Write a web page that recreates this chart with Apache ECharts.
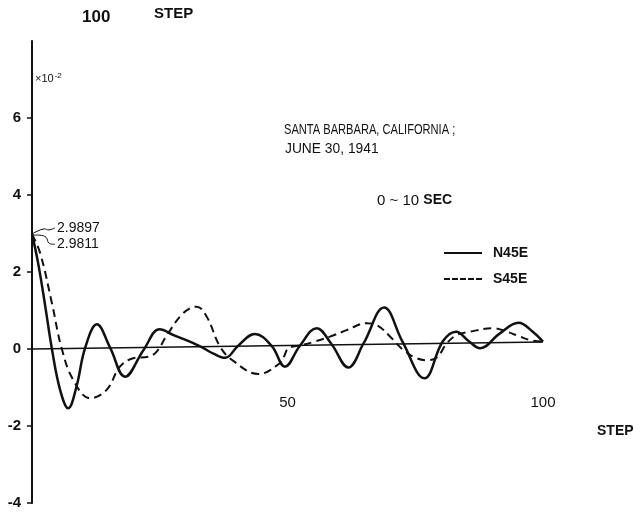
<!DOCTYPE html>
<html><head><meta charset="utf-8">
<script src="https://cdn.jsdelivr.net/npm/echarts@6/dist/echarts.min.js"></script>
<style>html,body{margin:0;padding:0;background:#fff}#c{width:641px;height:516px}</style>
</head><body><div id="c"></div>
<script>
// ---- data ----
const yTicks = [-4, -2, 0, 2, 4, 6];
const xTicks = [50, 100];
const seriesNames = ['N45E', 'S45E'];
const peakLabels = ['2.9897', '2.9811'];

const n45eSteps = [0, 1.2, 2.5, 3.9, 5.5, 7.1, 8.7, 10.4, 12.7, 15.3, 18.2, 21.8, 25.0, 27.7, 30.9, 33.3, 35.5, 37.8, 40.3, 43.6, 46.9, 49.5, 52.4, 55.7, 58.6, 61.9, 64.9, 68.9, 72.5, 76.8, 80.4, 83.0, 85.5, 87.7, 91.5, 95.2, 98.0, 100];
const n45eValues = [2.9897, 2.23, 1.19, 0.0, -1.06, -1.54, -0.98, 0.03, 0.64, 0.03, -0.72, -0.03, 0.51, 0.36, 0.19, 0.04, -0.12, -0.23, 0.08, 0.39, 0.08, -0.46, 0.08, 0.54, 0.13, -0.48, 0.15, 1.08, 0.19, -0.76, 0.2, 0.45, 0.2, 0.02, 0.4, 0.68, 0.45, 0.19];

const s45eSteps = [0, 1.6, 3.9, 5.8, 8.1, 11.4, 14.6, 17.2, 19.8, 22.8, 24.4, 26.4, 29.6, 32.2, 34.2, 36.8, 39.4, 44.3, 48.5, 49.3, 50.2, 52.8, 55.5, 58.3, 61.6, 65.5, 67.5, 70.1, 72.7, 75.3, 77.2, 79.2, 81.2, 83.1, 85.7, 90.3, 92.9, 95.5, 97.5, 100];
const s45eValues = [2.9811, 2.49, 1.19, 0.02, -0.81, -1.28, -1.06, -0.46, -0.24, -0.2, -0.07, 0.36, 0.93, 1.1, 0.84, 0.06, -0.31, -0.65, -0.37, -0.2, 0.02, 0.1, 0.2, 0.32, 0.49, 0.67, 0.62, 0.32, -0.03, -0.24, -0.29, -0.22, 0.15, 0.36, 0.45, 0.54, 0.45, 0.32, 0.23, 0.19];

// drawn zero reference line (slightly tilted in the scan)
const zeroLineSteps = [0, 100];
const zeroLineValues = [0, 0.18];

const FONT = '"Liberation Sans", Arial, sans-serif';
const INK = '#111';

const pairs = (xs, ys) => xs.map((x, i) => [x, ys[i]]);

const chart = echarts.init(document.getElementById('c'), null, {renderer: 'canvas'});

const option = {
  backgroundColor: '#fff',
  animation: false,
  grid: {left: 32, right: 98, top: 41, bottom: 13, containLabel: false, outerBoundsMode: 'none'},
  legend: {
    left: 439, top: 241, orient: 'vertical',
    itemWidth: 38, itemHeight: 2.5, itemGap: 12,
    data: [
      {name: seriesNames[0], icon: 'path://M0,0H38V2H0Z'},
      {name: seriesNames[1], icon: 'path://M0,0h6v2h-6zM8,0h6v2h-6zM16,0h6v2h-6zM24,0h6v2h-6zM32,0h6v2h-6z'}
    ],
    textStyle: {fontFamily: FONT, fontWeight: 'bold', fontSize: 14, color: INK, padding: [0, 0, 0, 6]}
  },
  xAxis: {
    type: 'value', min: 0, max: 100, position: 'bottom',
    axisLine: {show: false, onZero: false},
    axisTick: {show: false},
    splitLine: {show: false},
    axisLabel: {customValues: xTicks, margin: -108, fontFamily: FONT, fontSize: 15, color: INK}
  },
  yAxis: {
    type: 'value', min: -4, max: 8, interval: 2,
    axisLine: {show: true, lineStyle: {color: INK, width: 2}},
    axisTick: {show: true, customValues: yTicks, length: 5, lineStyle: {color: INK, width: 1.5}},
    splitLine: {show: false},
    axisLabel: {customValues: yTicks, margin: 11, fontFamily: FONT, fontWeight: 'bold', fontSize: 15, color: INK}
  },
  series: [
    {
      name: seriesNames[0], type: 'line', data: pairs(n45eSteps, n45eValues),
      smooth: 0.4, symbol: 'none', showSymbol: false,
      lineStyle: {color: INK, width: 2.5, type: 'solid'}, itemStyle: {color: INK},
      markLine: {
        silent: true, symbol: 'none', label: {show: false},
        lineStyle: {color: INK, width: 1.5, type: 'solid'},
        data: [[{coord: [zeroLineSteps[0], zeroLineValues[0]]}, {coord: [zeroLineSteps[1], zeroLineValues[1]]}]]
      }
    },
    {
      name: seriesNames[1], type: 'line', data: pairs(s45eSteps, s45eValues),
      smooth: 0.4, symbol: 'none', showSymbol: false,
      lineStyle: {color: INK, width: 2, type: [8, 5]}, itemStyle: {color: INK}
    }
  ]
};
chart.setOption(option);

// annotations anchored to the first points
const p1 = chart.convertToPixel({gridIndex: 0}, [n45eSteps[0], n45eValues[0]]);
const p2 = chart.convertToPixel({gridIndex: 0}, [s45eSteps[0], s45eValues[0]]);

chart.setOption({
  graphic: [
    {type: 'text', x: 82, y: 9, style: {text: '100', font: 'bold 17px ' + FONT, fill: INK, verticalAlign: 'top'}},
    {type: 'text', x: 154, y: 6, style: {text: 'STEP', font: 'bold 15px ' + FONT, fill: INK, verticalAlign: 'top'}},
    {type: 'text', x: 35, y: 72, style: {text: '{a|×10}{s|-2}', verticalAlign: 'top', fill: INK,
      rich: {a: {fontSize: 11, fontFamily: FONT, fill: INK}, s: {fontSize: 8, fontFamily: FONT, fill: INK, padding: [0, 0, 6, 1]}}}},
    {type: 'text', x: 284, y: 122, scaleX: 0.74, style: {text: 'SANTA BARBARA, CALIFORNIA ;', font: '15px ' + FONT, fill: INK, verticalAlign: 'top'}},
    {type: 'text', x: 285, y: 141, scaleX: 0.92, style: {text: 'JUNE 30, 1941', font: '15px ' + FONT, fill: INK, verticalAlign: 'top'}},
    {type: 'text', x: 377, y: 193, style: {text: '{a|0 ~ 10 }{b|SEC}', verticalAlign: 'top', fill: INK,
      rich: {a: {fontSize: 15, fontFamily: FONT, fill: INK}, b: {fontSize: 14, fontWeight: 'bold', fontFamily: FONT, fill: INK}}}},
    {type: 'text', x: 597, y: 424, style: {text: 'STEP', font: 'bold 14px ' + FONT, fill: INK, verticalAlign: 'top'}},
    // peak value leaders
    {type: 'polyline', shape: {smooth: 0.4, points: [[p1[0], p1[1]], [p1[0] + 6, p1[1] - 3], [p1[0] + 12, p1[1] - 5], [p1[0] + 17, p1[1] - 4], [p1[0] + 23, p1[1] - 6]]},
      style: {stroke: INK, lineWidth: 1, fill: null}},
    {type: 'text', x: p1[0] + 25, y: p1[1] - 6, style: {text: peakLabels[0], font: '14px ' + FONT, fill: INK, verticalAlign: 'middle'}},
    {type: 'polyline', shape: {smooth: 0.4, points: [[p2[0] + 1, p2[1] + 1], [p2[0] + 8, p2[1] + 1], [p2[0] + 14, p2[1] + 3], [p2[0] + 17, p2[1] + 9], [p2[0] + 23, p2[1] + 10]]},
      style: {stroke: INK, lineWidth: 1, fill: null}},
    {type: 'text', x: p2[0] + 25, y: p2[1] + 10, style: {text: peakLabels[1], font: '14px ' + FONT, fill: INK, verticalAlign: 'middle'}}
  ]
});
</script></body></html>
